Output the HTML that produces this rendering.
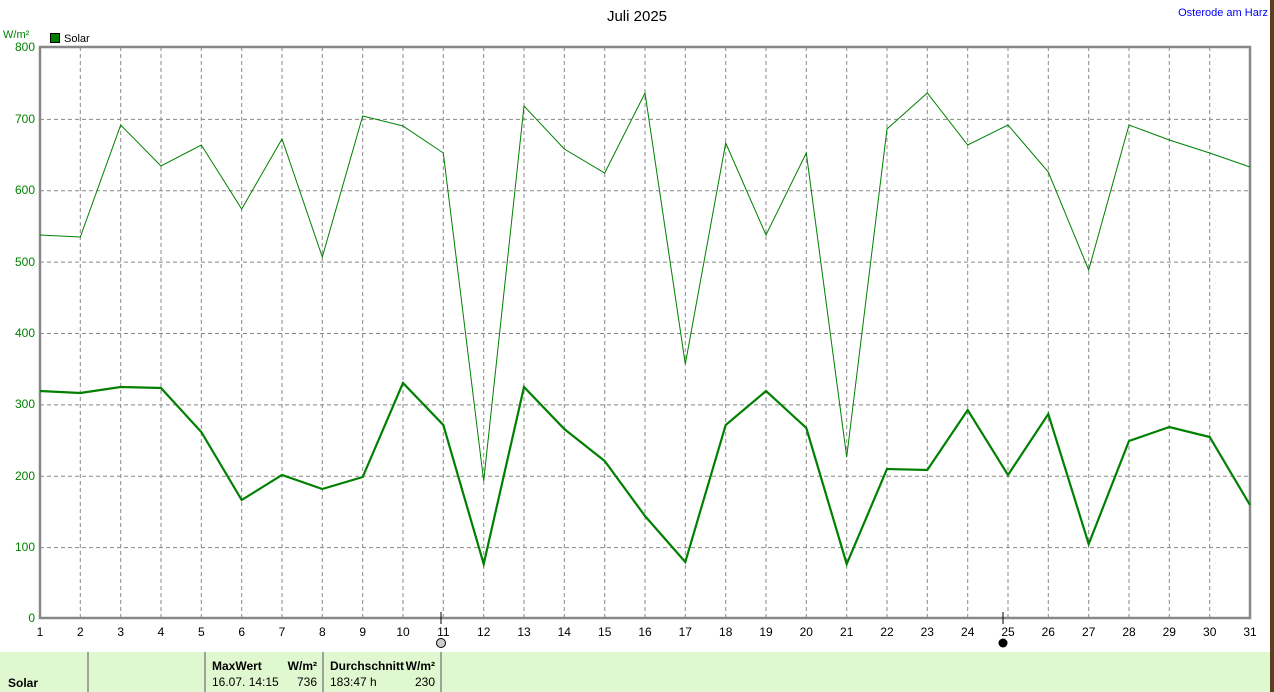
<!DOCTYPE html>
<html><head><meta charset="utf-8"><style>
body{margin:0;width:1274px;height:692px;overflow:hidden;background:#fff;font-family:"Liberation Sans",sans-serif}
</style></head><body>
<svg width="1274" height="692" xmlns="http://www.w3.org/2000/svg" style="position:absolute;left:0;top:0">
<rect x="1270" y="0" width="4" height="692" fill="#5a4020"/>
<rect x="0" y="652" width="1270" height="40" fill="#e0f8d0"/>
<g stroke="#888" stroke-width="1.5">
<line x1="88" y1="652" x2="88" y2="692"/><line x1="205" y1="652" x2="205" y2="692"/>
<line x1="323" y1="652" x2="323" y2="692"/><line x1="441" y1="652" x2="441" y2="692"/>
</g>
<g font-size="12" fill="#000">
<text x="8" y="687" font-weight="bold">Solar</text>
<text x="212" y="670" font-weight="bold">MaxWert</text><text x="317" y="670" font-weight="bold" text-anchor="end">W/m²</text>
<text x="212" y="686">16.07.  14:15</text><text x="317" y="686" text-anchor="end">736</text>
<text x="330" y="670" font-weight="bold">Durchschnitt</text><text x="435" y="670" font-weight="bold" text-anchor="end">W/m²</text>
<text x="330" y="686">183:47 h</text><text x="435" y="686" text-anchor="end">230</text>
</g>
<text x="637" y="21" font-size="15" text-anchor="middle">Juli 2025</text>
<text x="1268" y="16" font-size="11" fill="#0000ff" text-anchor="end">Osterode am Harz</text>
<text x="3" y="38" font-size="11" fill="#008000">W/m²</text>
<rect x="50.5" y="33.5" width="9" height="9" fill="#008000" stroke="#000"/>
<text x="64" y="42" font-size="11">Solar</text>
<g stroke="#888" stroke-dasharray="4,3" stroke-width="1">
<line x1="40" y1="547.6" x2="1250" y2="547.6"/><line x1="40" y1="476.3" x2="1250" y2="476.3"/>
<line x1="40" y1="404.9" x2="1250" y2="404.9"/><line x1="40" y1="333.5" x2="1250" y2="333.5"/>
<line x1="40" y1="262.1" x2="1250" y2="262.1"/><line x1="40" y1="190.8" x2="1250" y2="190.8"/>
<line x1="40" y1="119.4" x2="1250" y2="119.4"/>
<path d="M80.3 47V618M120.7 47V618M161 47V618M201.3 47V618M241.7 47V618M282 47V618M322.3 47V618M362.7 47V618M403 47V618M443.3 47V618M483.7 47V618M524 47V618M564.3 47V618M604.7 47V618M645 47V618M685.3 47V618M725.7 47V618M766 47V618M806.3 47V618M846.7 47V618M887 47V618M927.3 47V618M967.7 47V618M1008 47V618M1048.3 47V618M1088.7 47V618M1129 47V618M1169.3 47V618M1209.7 47V618"/>
</g>
<rect x="40" y="47" width="1210" height="571" fill="none" stroke="#888" stroke-width="2.5"/>
<g font-size="12" fill="#008000" text-anchor="end">
<text x="35" y="622">0</text><text x="35" y="551">100</text><text x="35" y="480">200</text><text x="35" y="408">300</text>
<text x="35" y="337">400</text><text x="35" y="266">500</text><text x="35" y="194">600</text><text x="35" y="123">700</text><text x="35" y="51">800</text>
</g>
<g font-size="12" text-anchor="middle">
<text x="40" y="636">1</text><text x="80.3" y="636">2</text><text x="120.7" y="636">3</text><text x="161" y="636">4</text><text x="201.3" y="636">5</text><text x="241.7" y="636">6</text><text x="282" y="636">7</text><text x="322.3" y="636">8</text><text x="362.7" y="636">9</text><text x="403" y="636">10</text><text x="443.3" y="636">11</text><text x="483.7" y="636">12</text><text x="524" y="636">13</text><text x="564.3" y="636">14</text><text x="604.7" y="636">15</text><text x="645" y="636">16</text><text x="685.3" y="636">17</text><text x="725.7" y="636">18</text><text x="766" y="636">19</text><text x="806.3" y="636">20</text><text x="846.7" y="636">21</text><text x="887" y="636">22</text><text x="927.3" y="636">23</text><text x="967.7" y="636">24</text><text x="1008" y="636">25</text><text x="1048.3" y="636">26</text><text x="1088.7" y="636">27</text><text x="1129" y="636">28</text><text x="1169.3" y="636">29</text><text x="1209.7" y="636">30</text><text x="1250" y="636">31</text>
</g>
<line x1="441" y1="612" x2="441" y2="624" stroke="#000"/><circle cx="441" cy="643" r="4.5" fill="#ccc" stroke="#000"/>
<line x1="1003" y1="612" x2="1003" y2="624" stroke="#000"/><circle cx="1003" cy="643" r="4.5" fill="#000"/>
<polyline fill="none" stroke="#008000" stroke-width="1" points="40,235 80.3,237 120.7,125 161,166 201.3,145 241.7,209 282,139 322.3,257 362.7,116 403,126 443.3,153 483.7,481 524,106 564.3,149 604.7,173 645,93 685.3,364 725.7,143 766,235 806.3,153 846.7,457 887,129 927.3,93 967.7,145 1008,125 1048.3,172 1088.7,270 1129,125 1169.3,140 1209.7,153 1250,167"/>
<polyline fill="none" stroke="#008000" stroke-width="2.2" points="40,391 80.3,393 120.7,387 161,388 201.3,432 241.7,500 282,475 322.3,489 362.7,477 403,383 443.3,425 483.7,564 524,387 564.3,429 604.7,461 645,516 685.3,562 725.7,425 766,391 806.3,428 846.7,564 887,469 927.3,470 967.7,410 1008,475 1048.3,414 1088.7,544 1129,441 1169.3,427 1209.7,437 1250,505"/>
</svg>
</body></html>
